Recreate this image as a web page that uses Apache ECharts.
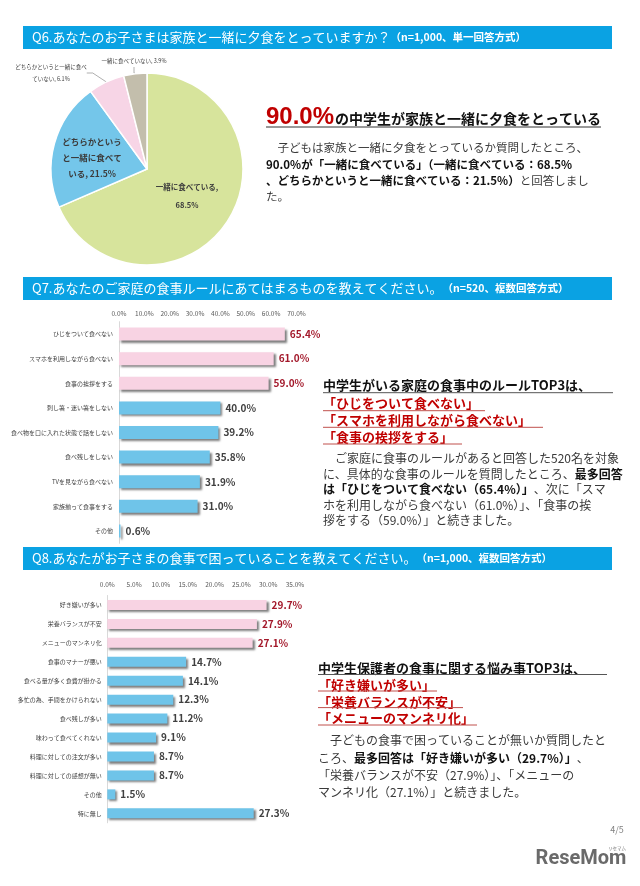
<!DOCTYPE html>
<html><head><meta charset="utf-8">
<script src="https://cdn.jsdelivr.net/npm/echarts@6/dist/echarts.min.js"></script>
<style>html,body{margin:0;padding:0;background:#fff}#c{width:640px;height:886px}</style>
</head><body><div id="c"></div>
<script>
// ---------- DATA ----------
const pieNames = ['一緒に食べている', 'どちらかというと一緒に食べている', 'どちらかというと一緒に食べていない', '一緒に食べていない'];
const pieValues = [68.5, 21.5, 6.1, 3.9];

const q7Categories = ['ひじをついて食べない', 'スマホを利用しながら食べない', '食事の挨拶をする', '刺し箸・迷い箸をしない', '食べ物を口に入れた状態で話をしない', '食べ残しをしない', 'TVを見ながら食べない', '家族揃って食事をする', 'その他'];
const q7Values = [65.4, 61.0, 59.0, 40.0, 39.2, 35.8, 31.9, 31.0, 0.6];
const q7AxisMax = 70, q7AxisStep = 10;

const q8Categories = ['好き嫌いが多い', '栄養バランスが不安', 'メニューのマンネリ化', '食事のマナーが悪い', '食べる量が多く食費が掛かる', '多忙の為、手間をかけられない', '食べ残しが多い', '味わって食べてくれない', '料理に対しての注文が多い', '料理に対しての感想が無い', 'その他', '特に無し'];
const q8Values = [29.7, 27.9, 27.1, 14.7, 14.1, 12.3, 11.2, 9.1, 8.7, 8.7, 1.5, 27.3];
const q8AxisMax = 35, q8AxisStep = 5;

// ---------- STYLE ----------
const FONT = '"Noto Sans CJK JP","Noto Sans",sans-serif';
const HEAD = '#0aa2e3';
const RED = '#c00000';
const pieColors = ['#d7e49c', '#74c6ea', '#f7d5e6', '#c3beac'];
const PINK = '#f8d3e3', BLUE = '#6fc4e9';

function wrap(t, n) { return t.slice(0, n) + '\n' + t.slice(n); }

const pieLabelPos = [
  { x: 187, y: 196 }, { x: 92, y: 157.5 }, { x: 51, y: 73 }, { x: 134, y: 61 }
];
const pieData = pieNames.map((name, i) => {
  let text;
  if (i === 0) text = name + ',\n' + pieValues[i].toFixed(1) + '%';
  else if (i === 1) { const t = name + ', ' + pieValues[i].toFixed(1) + '%'; text = t.slice(0,7) + '\n' + t.slice(7,14) + '\n' + t.slice(14); }
  else if (i === 2) text = wrap(name + ', ' + pieValues[i].toFixed(1) + '%', 13);
  else text = name + ', ' + pieValues[i].toFixed(1) + '%';
  const inside = i < 2;
  return {
    name, value: pieValues[i],
    itemStyle: { color: pieColors[i] },
    label: inside
      ? { show: true, position: 'inside', formatter: text, fontSize: i === 0 ? 7.5 : 8.5, fontWeight: 'bold', color: '#3c3c3c', lineHeight: i === 0 ? 18 : 16, fontFamily: FONT }
      : { show: true, position: 'outside', formatter: text, fontSize: 5.5, color: '#404040', lineHeight: 12, fontFamily: FONT },
    labelLine: { show: !inside, length: 6, length2: 6, lineStyle: { color: '#8c8c8c', width: 0.7 } }
  };
});

function barData(vals) {
  return vals.map((v, i) => ({
    value: v,
    itemStyle: { color: i < 3 ? PINK : BLUE },
    label: { color: i < 3 ? '#a3182a' : '#404040' }
  }));
}

// ---------- TEXT HELPERS ----------
function richLine(x, y, parts, size) {
  return {
    type: 'text', x, y,
    style: {
      text: parts.map(p => '{' + p[0] + '|' + p[1] + '}').join(''),
      align: 'left', textAlign: 'left', verticalAlign: 'middle', textVerticalAlign: 'middle',
      rich: {
        n: { fill: '#3a3a3a', color: '#3a3a3a', fontSize: size, fontFamily: FONT, fontWeight: 'normal' },
        b: { fill: '#111', color: '#111', fontSize: size, fontFamily: FONT, fontWeight: 'bold' },
        r: { fill: RED, color: RED, fontSize: size, fontFamily: FONT, fontWeight: 'bold' }
      }
    }
  };
}
function txt(x, y, text, size, color, weight, align, family) {
  return { type: 'text', x, y, style: { text, fill: color, fontSize: size, fontFamily: family || FONT, fontWeight: weight || 'normal', align: align || 'left', textAlign: align || 'left', verticalAlign: 'middle', textVerticalAlign: 'middle' } };
}
function uline(x1, x2, y, color, w) {
  return { type: 'line', shape: { x1, y1: y, x2, y2: y }, style: { stroke: color, lineWidth: w || 1 } };
}
function header(y, main, sub) {
  return [
    { type: 'rect', shape: { x: 23, y, width: 589, height: 23 }, style: { fill: HEAD } },
    {
      type: 'text', x: 32, y: y + 11.5,
      style: {
        text: '{a|' + main + '}{s|' + sub + '}', verticalAlign: 'middle', textVerticalAlign: 'middle',
        rich: {
          a: { fill: '#fff', color: '#fff', fontSize: 13, fontFamily: FONT },
          s: { fill: '#fff', color: '#fff', fontSize: 10.5, fontFamily: FONT, fontWeight: 'bold' }
        }
      }
    }
  ];
}

const graphics = [].concat(
  header(26, 'Q6.あなたのお子さまは家族と一緒に夕食をとっていますか？', '（n=1,000、単一回答方式）'),
  header(277, 'Q7.あなたのご家庭の食事ルールにあてはまるものを教えてください。', '（n=520、複数回答方式）'),
  header(547, 'Q8.あなたがお子さまの食事で困っていることを教えてください。', '（n=1,000、複数回答方式）'),
  [
    // Q6 text
    txt(266, 117, '90.0%', 24, RED, 'bold', 'left', '"Liberation Sans", Arial, sans-serif'),
    txt(335, 119, 'の中学生が家族と一緒に夕食をとっている', 14, '#111', 'bold'),
    uline(266, 601, 127, '#333', 1),
    richLine(266, 147.3, [['n', '　子どもは家族と一緒に夕食をとっているか質問したところ、']], 11.5),
    richLine(266, 164.3, [['b', '90.0%が「一緒に食べている」（一緒に食べている：68.5%']], 11.5),
    richLine(266, 181, [['b', '、どちらかというと一緒に食べている：21.5%）'], ['n', 'と回答しまし']], 11.5),
    richLine(266, 196.7, [['n', 'た。']], 11.5),

    // Q7 text
    txt(323, 385, '中学生がいる家庭の食事中のルールTOP3は、', 13, '#111', 'bold'),
    uline(323, 613, 392.7, '#555', 1),
    txt(323, 403.3, '「ひじをついて食べない」', 13, RED, 'bold'),
    uline(323, 485, 410.7, '#c0504d', 1),
    txt(323, 420, '「スマホを利用しながら食べない」', 13, RED, 'bold'),
    uline(323, 543, 427.3, '#c0504d', 1),
    txt(323, 436.7, '「食事の挨拶をする」', 13, RED, 'bold'),
    uline(323, 462, 444, '#c0504d', 1),
    richLine(323, 458.3, [['n', '　ご家庭に食事のルールがあると回答した520名を対象']], 12),
    richLine(323, 474, [['n', 'に、具体的な食事のルールを質問したところ、'], ['b', '最多回答']], 12),
    richLine(323, 489.3, [['b', 'は「ひじをついて食べない（65.4%）」'], ['n', '、次に「スマ']], 12),
    richLine(323, 505, [['n', 'ホを利用しながら食べない（61.0%）」、「食事の挨']], 12),
    richLine(323, 520.7, [['n', '拶をする（59.0%）」と続きました。']], 12),

    // Q8 text
    txt(318, 668.3, '中学生保護者の食事に関する悩み事TOP3は、', 13, '#111', 'bold'),
    uline(318, 607, 674.5, '#555', 1),
    txt(318, 685, '「好き嫌いが多い」', 13, RED, 'bold'),
    uline(318, 437, 691, '#c0504d', 1),
    txt(318, 701.7, '「栄養バランスが不安」', 13, RED, 'bold'),
    uline(318, 463, 707.6, '#c0504d', 1),
    txt(318, 718.3, '「メニューのマンネリ化」', 13, RED, 'bold'),
    uline(318, 477, 725, '#c0504d', 1),
    richLine(318, 740, [['n', '　子どもの食事で困っていることが無いか質問したと']], 12),
    richLine(318, 758, [['n', 'ころ、'], ['b', '最多回答は「好き嫌いが多い（29.7%）」'], ['n', '、']], 12),
    richLine(318, 775.5, [['n', '「栄養バランスが不安（27.9%）」、「メニューの']], 12),
    richLine(318, 792.7, [['n', 'マンネリ化（27.1%）」と続きました。']], 12),

    // footer
    txt(617, 830, '4/5', 9, '#808080', 'normal', 'center'),
    { type: 'text', x: 581, y: 859, style: { text: 'ReseMom', fill: '#6a6a6a', fontSize: 20, fontFamily: 'Roboto, sans-serif', fontWeight: 'bold', align: 'center', textAlign: 'center', verticalAlign: 'middle', textVerticalAlign: 'middle' } },
    txt(617, 848, 'リセマム', 4.5, '#777', 'normal', 'center')
  ]
);

const valueAxisCommon = (max, step, margin) => ({
  type: 'value', position: 'top', min: 0, max, interval: step,
  axisLine: { show: false }, axisTick: { show: false }, splitLine: { show: false },
  axisLabel: { formatter: v => v.toFixed(1) + '%', fontSize: 6.5, color: '#595959', margin, fontFamily: FONT }
});
const catAxisCommon = (cats, margin) => ({
  type: 'category', data: cats, inverse: true,
  axisLine: { show: true, lineStyle: { color: '#d9d9d9', width: 1 } },
  axisTick: { show: false },
  axisLabel: { fontSize: 6, color: '#404040', margin, fontFamily: FONT }
});
const barCommon = (w) => ({
  type: 'bar', barWidth: w,
  itemStyle: { shadowBlur: 2, shadowColor: 'rgba(0,0,0,0.5)', shadowOffsetX: 2, shadowOffsetY: 2 },
  label: { show: true, position: 'right', distance: 5, fontSize: 10, fontWeight: 'bold', fontFamily: FONT, formatter: p => p.value.toFixed(1) + '%' }
});

const chart = echarts.init(document.getElementById('c'), null, { renderer: 'canvas' });
chart.setOption({
  animation: false,
  backgroundColor: '#fff',
  grid: [
    { left: 119, top: 321.7, width: 177.5, height: 221.6 },
    { left: 107.3, top: 595.5, width: 187.7, height: 227.3 }
  ],
  xAxis: [
    Object.assign(valueAxisCommon(q7AxisMax, q7AxisStep, 5), { gridIndex: 0 }),
    Object.assign(valueAxisCommon(q8AxisMax, q8AxisStep, 8), { gridIndex: 1 })
  ],
  yAxis: [
    Object.assign(catAxisCommon(q7Categories, 6), { gridIndex: 0 }),
    Object.assign(catAxisCommon(q8Categories, 5.5), { gridIndex: 1 })
  ],
  series: [
    {
      type: 'pie', center: [147, 169], radius: 96, startAngle: 90, clockwise: true,
      avoidLabelOverlap: false,
      itemStyle: { borderColor: '#fff', borderWidth: 1.5 },
      data: pieData,
      labelLayout: function (p) {
        const pos = pieLabelPos[p.dataIndex];
        return { x: pos.x, y: pos.y, align: 'center', verticalAlign: 'middle' };
      }
    },
    Object.assign(barCommon(13), { xAxisIndex: 0, yAxisIndex: 0, data: barData(q7Values) }),
    Object.assign(barCommon(10), { xAxisIndex: 1, yAxisIndex: 1, data: barData(q8Values) })
  ],
  graphic: { elements: graphics }
});
</script></body></html>
